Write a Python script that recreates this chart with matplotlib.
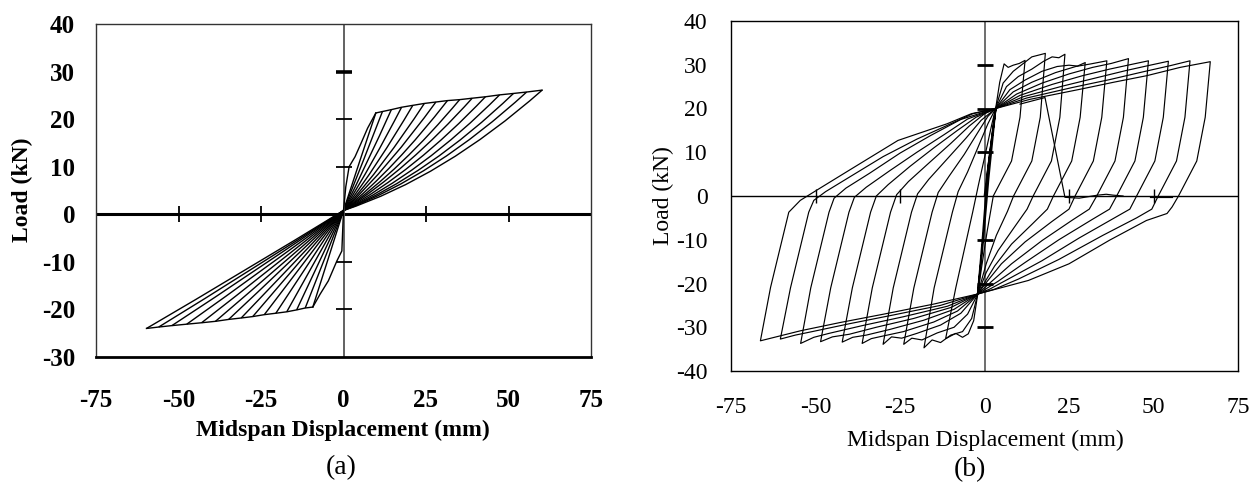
import matplotlib
matplotlib.use('Agg')
import matplotlib.pyplot as plt
from matplotlib.path import Path
from matplotlib.patches import PathPatch

plt.rcParams['font.family'] = ['Liberation Serif', 'DejaVu Serif']

# ---------------- panel (a): load-displacement, pinched fan ----------------
a_origin = (0.0, 0.8)
a_init_pos_x = [0.0, 0.7, 1.7, 3.5, 5.3, 7.3, 9.8]
a_init_pos_y = [0.8, 5.8, 10.0, 12.1, 14.9, 18.1, 21.3]
a_pos_x = [9.8, 11.8, 14.5, 17.6, 21.0, 24.5, 28.0, 31.5, 35.2, 39.0, 43.0, 47.3, 51.5, 55.5, 60.2]
a_pos_y = [21.3, 21.6, 22.0, 22.5, 22.9, 23.3, 23.6, 23.9, 24.1, 24.4, 24.7, 25.1, 25.4, 25.7, 26.1]
# control load (at half the peak displacement) of each curved unloading branch
a_pos_ctrl = [11.2, 11.0, 10.8, 10.7, 10.5, 10.3, 10.2, 9.8, 9.5, 9.4, 9.0, 8.6, 8.3, 8.1, 7.7]

a_init_neg_x = [0.0, -0.5, -2.0, -4.6, -7.1, -9.3]
a_init_neg_y = [0.8, -7.7, -9.8, -14.0, -16.8, -19.5]
a_neg_x = [-9.3, -11.6, -14.2, -17.2, -20.5, -24.0, -27.5, -31.0, -34.8, -38.8, -43.0, -47.5, -52.0, -56.0, -59.7]
a_neg_y = [-19.5, -19.7, -20.1, -20.5, -20.8, -21.1, -21.5, -21.8, -22.1, -22.5, -22.8, -23.1, -23.4, -23.7, -24.0]
a_neg_ctrl = [-9.4, -9.5, -9.6, -9.8, -10.0, -10.2, -10.4, -10.6, -10.8, -11.0, -11.2, -11.4, -11.6, -11.8, -11.9]

# ---------------- panel (b): full hysteresis loops ----------------
b_piv_pos = (3.3, 20.0)
b_piv_neg = (-2.0, -22.4)
b_init_x = [0.0, 1.8, 3.3, 1.0, -0.5, -2.0, -0.6, 1.2, 3.3]
b_init_y = [0.0, 11.0, 20.0, 6.0, -9.0, -22.4, -12.0, 4.0, 20.0]

b_pos_peak_x = [12.0, 18.0, 23.8, 29.8, 36.2, 42.6, 48.5, 54.4, 60.8, 66.8]
b_pos_peak_y = [31.0, 32.6, 32.4, 30.5, 30.9, 31.4, 30.9, 30.8, 30.9, 30.7]
b_neg_peak_x = [-11.5, -17.9, -23.9, -30.0, -36.2, -42.1, -48.5, -54.4, -60.4, -66.3]
b_neg_peak_y = [-32.6, -34.7, -33.9, -33.9, -33.7, -33.4, -33.3, -33.7, -32.7, -33.1]

# branch points between pivots and peaks, one list per cycle
b_upper = [
    [(4.5, 26.0), (5.8, 30.2), (7.0, 29.4), (8.5, 29.9), (10.3, 30.3)],
    [(5.5, 25.8), (8.5, 28.5), (11.5, 30.3), (14.0, 31.8), (16.0, 32.2)],
    [(6.5, 25.0), (10.0, 27.3), (14.0, 29.0), (17.5, 30.8), (20.0, 31.8), (22.0, 31.6)],
    [(7.5, 24.3), (12.0, 26.5), (17.0, 28.5), (21.5, 29.6), (25.0, 29.9), (27.5, 29.7)],
    [(8.5, 23.8), (14.0, 26.0), (21.0, 28.2), (27.0, 29.6), (31.5, 30.2)],
    [(9.5, 23.3), (17.0, 25.8), (25.0, 27.9), (32.0, 29.4), (37.5, 30.3)],
    [(10.5, 23.0), (20.0, 25.5), (29.0, 27.5), (37.0, 29.0), (43.0, 30.0)],
    [(11.5, 22.7), (23.0, 25.1), (33.0, 27.0), (42.0, 28.7), (49.0, 29.9)],
    [(12.5, 22.4), (26.0, 24.8), (37.0, 26.6), (47.0, 28.4), (55.0, 29.8)],
    [(13.5, 22.1), (28.3, 24.4), (38.2, 26.0), (48.0, 27.5), (57.9, 29.4)],
]
b_unload = [
    [(10.5, 18.0), (8.0, 8.0), (2.6, 0.0), (0.8, -8.0), (-0.8, -16.0)],
    [(16.5, 18.0), (14.0, 8.0), (8.6, 0.0), (6.8, -3.5), (3.5, -9.0), (0.5, -15.5)],
    [(22.3, 18.0), (19.8, 8.0), (14.4, 0.0), (12.6, -3.0), (8.5, -7.5), (4.0, -12.5), (0.5, -17.5)],
    [(28.3, 18.0), (25.8, 8.0), (20.4, 0.0), (18.6, -3.0), (14.0, -6.5), (8.0, -11.0), (3.0, -16.0), (0.0, -19.8)],
    [(34.7, 18.0), (32.2, 8.0), (26.8, 0.0), (25.0, -3.0), (20.0, -5.8), (12.0, -10.5), (5.0, -15.5), (0.5, -19.8)],
    [(41.1, 18.0), (38.6, 8.0), (33.2, 0.0), (31.0, -3.0), (26.0, -5.5), (17.0, -10.2), (8.0, -15.5), (2.0, -19.6)],
    [(47.0, 18.0), (44.5, 8.0), (39.1, 0.0), (37.0, -3.0), (32.0, -5.3), (22.0, -10.0), (12.0, -15.2), (4.0, -19.5)],
    [(52.9, 18.0), (50.4, 8.0), (45.0, 0.0), (43.0, -3.0), (38.0, -5.2), (28.0, -9.6), (17.0, -14.8), (7.0, -19.0), (1.5, -21.3)],
    [(59.3, 18.0), (56.8, 8.0), (51.4, 0.0), (49.5, -3.0), (45.0, -5.0), (35.0, -9.0), (22.0, -14.5), (10.0, -19.0), (3.0, -21.3)],
    [(65.3, 18.0), (62.8, 8.0), (57.4, 0.0), (55.5, -2.5), (54.0, -4.0), (47.9, -5.6), (37.0, -10.1), (25.0, -15.5), (13.0, -19.3)],
]
b_lower = [
    [(-3.2, -28.5), (-4.8, -31.5), (-6.5, -32.3), (-8.5, -31.4), (-10.0, -32.0)],
    [(-3.8, -28.0), (-6.5, -31.0), (-10.0, -31.8), (-13.0, -33.5), (-15.5, -32.9)],
    [(-5.0, -27.0), (-9.0, -30.0), (-14.0, -31.3), (-18.5, -32.9), (-21.5, -32.5)],
    [(-7.0, -26.8), (-13.0, -29.5), (-20.0, -31.4), (-24.5, -32.5), (-27.5, -32.2)],
    [(-8.0, -26.3), (-15.0, -28.8), (-24.0, -31.0), (-30.0, -32.0), (-33.5, -32.6)],
    [(-9.0, -25.9), (-18.0, -28.4), (-28.0, -30.5), (-35.0, -31.8), (-39.0, -32.3)],
    [(-10.0, -25.5), (-21.0, -28.0), (-32.0, -30.0), (-40.0, -31.6), (-45.0, -32.2)],
    [(-11.0, -25.2), (-24.0, -27.6), (-36.0, -29.6), (-46.0, -31.4), (-50.5, -32.3)],
    [(-13.0, -25.0), (-27.0, -27.2), (-40.0, -29.2), (-51.0, -31.0), (-56.0, -31.8)],
    [(-15.0, -24.7), (-29.8, -27.0), (-42.6, -28.9), (-54.4, -30.8)],
]
b_reload = [
    [(-8.5, -21.0), (-3.5, -3.7), (-1.8, 2.5), (0.5, 10.5), (2.2, 16.5)],
    [(-14.9, -21.0), (-9.5, -3.7), (-7.8, 1.0), (-5.0, 5.5), (-2.0, 11.0), (1.0, 16.5)],
    [(-20.9, -21.0), (-15.5, -3.7), (-13.7, 0.8), (-10.5, 4.5), (-6.0, 9.5), (-2.0, 14.5), (1.0, 18.2)],
    [(-27.0, -21.0), (-21.6, -3.7), (-19.8, 0.5), (-16.5, 3.8), (-11.0, 8.5), (-5.5, 13.2), (-1.0, 17.3)],
    [(-33.2, -21.0), (-27.8, -3.7), (-26.0, 0.3), (-22.5, 3.3), (-16.5, 7.5), (-10.0, 12.0), (-4.5, 16.0), (0.0, 18.8)],
    [(-39.1, -21.0), (-33.7, -3.7), (-32.0, 0.0), (-28.5, 2.6), (-22.0, 6.8), (-15.0, 11.0), (-8.0, 15.0), (-2.5, 18.0)],
    [(-45.5, -21.0), (-40.1, -3.7), (-38.5, -0.3), (-35.0, 2.0), (-28.0, 5.8), (-20.0, 10.0), (-12.0, 14.0), (-5.0, 17.6)],
    [(-51.4, -21.0), (-46.0, -3.7), (-44.5, -0.5), (-41.0, 1.8), (-34.0, 5.2), (-25.0, 9.8), (-16.0, 13.8), (-7.0, 17.5)],
    [(-57.4, -21.0), (-52.0, -3.7), (-50.5, -1.0), (-47.0, 1.0), (-40.0, 4.3), (-30.0, 9.0), (-20.0, 13.0), (-10.0, 16.5), (-3.5, 18.8)],
    [(-63.3, -20.9), (-57.9, -3.7), (-54.5, -1.0), (-49.7, 1.3), (-40.0, 5.9), (-32.8, 9.3), (-25.6, 12.7), (-11.1, 16.5), (-3.9, 18.8)],
]
# stray trace near zero load (slip segment)
b_slip_x = [10.5, 17.9, 23.8, 28.0, 33.5, 36.0, 38.0, 41.0]
b_slip_y = [21.0, 22.5, -0.3, -0.5, 0.2, 0.4, 0.2, 0.0]
b_flat_x = [49.0, 55.5]
b_flat_y = [-0.3, -0.3]

x_ticks = [-75, -50, -25, 0, 25, 50, 75]
a_yticks = [-30, -20, -10, 0, 10, 20, 30, 40]
b_yticks = [-40, -30, -20, -10, 0, 10, 20, 30, 40]
axis_marks_x = [-50, -25, 25, 50]
a_marks_y = [-20, -10, 10, 20]
b_marks_y = [-30, -20, -10, 10, 20, 30]

W, H = 1260, 491
fig = plt.figure(figsize=(W / 100, H / 100), dpi=100)
axa = fig.add_axes([96 / W, 1 - 357 / H, 495 / W, 333 / H])
axb = fig.add_axes([731 / W, 1 - 371 / H, 507 / W, 350 / H])


def fan_curve(ax, d, f, ctrl, lw):
    # quadratic bezier from the origin to the peak, bent by the control load
    verts = [a_origin, (d / 2, ctrl), (d, f)]
    path = Path(verts, [Path.MOVETO, Path.CURVE3, Path.CURVE3])
    ax.add_patch(PathPatch(path, facecolor='none', edgecolor='k', lw=lw))


# ---- (a)
lw_a = 1.0
axa.plot(a_init_pos_x, a_init_pos_y, color='k', lw=lw_a)
axa.plot(a_pos_x, a_pos_y, color='k', lw=lw_a)
for d, f, c in zip(a_pos_x, a_pos_y, a_pos_ctrl):
    fan_curve(axa, d, f, c, lw_a)
axa.plot(a_init_neg_x, a_init_neg_y, color='k', lw=lw_a)
axa.plot(a_neg_x, a_neg_y, color='k', lw=lw_a)
for d, f, c in zip(a_neg_x, a_neg_y, a_neg_ctrl):
    fan_curve(axa, d, f, c, lw_a)

axa.axhline(0, color='k', lw=2.2, zorder=1)
axa.axvline(0, color='#555555', lw=1.3, zorder=1)
axa.plot(axis_marks_x, [0] * len(axis_marks_x), ls='none', marker='|', ms=11, mew=1.3, color='k')
axa.plot([0] * len(a_marks_y), a_marks_y, ls='none', marker='_', ms=11, mew=1.3, color='k')
axa.plot([0], [30], ls='none', marker='_', ms=11, mew=2.6, color='k')

axa.set_xlim(-75, 75)
axa.set_ylim(-30, 40)
axa.set_xticks(x_ticks)
axa.set_xticklabels([str(v) for v in x_ticks])
axa.set_yticks(a_yticks)
axa.set_yticklabels([str(v) for v in a_yticks])
axa.tick_params(length=0, labelsize=18)
axa.tick_params(axis='x', pad=23)
axa.tick_params(axis='y', pad=15)
for lab in axa.get_xticklabels() + axa.get_yticklabels():
    lab.set_fontweight('bold')
for side in ['left', 'top', 'right']:
    axa.spines[side].set_linewidth(1.0)
    axa.spines[side].set_color('#333333')
axa.spines['bottom'].set_linewidth(2.0)

fig.text(343 / W, 1 - 430 / H, 'Midspan Displacement (mm)', ha='center', va='center',
         fontsize=17, fontweight='bold')
fig.text(22 / W, 1 - 190 / H, 'Load (kN)', ha='center', va='center', rotation=90,
         fontsize=17, fontweight='bold')
fig.text(341 / W, 1 - 468 / H, '(a)', ha='center', va='center', fontsize=20)

# ---- (b)
lw_b = 0.85
axb.plot(b_init_x, b_init_y, color='k', lw=1.3)
for i in range(len(b_pos_peak_x)):
    pts = [b_piv_pos] + b_upper[i] + [(b_pos_peak_x[i], b_pos_peak_y[i])] + b_unload[i] + \
          [b_piv_neg] + b_lower[i] + [(b_neg_peak_x[i], b_neg_peak_y[i])] + b_reload[i] + [b_piv_pos]
    axb.plot([p[0] for p in pts], [p[1] for p in pts], color='k', lw=lw_b)
axb.plot(b_slip_x, b_slip_y, color='k', lw=lw_b)
axb.plot(b_flat_x, b_flat_y, color='k', lw=lw_b)

axb.axhline(0, color='k', lw=1.0, zorder=1)
axb.axvline(0, color='#555555', lw=1.2, zorder=1)
axb.plot(axis_marks_x, [0] * len(axis_marks_x), ls='none', marker='|', ms=10, mew=1.0, color='k')
axb.plot([0] * len(b_marks_y), b_marks_y, ls='none', marker='_', ms=11, mew=2.0, color='k')

axb.set_xlim(-75, 75)
axb.set_ylim(-40, 40)
axb.set_xticks(x_ticks)
axb.set_xticklabels([str(v) for v in x_ticks])
axb.set_yticks(b_yticks)
axb.set_yticklabels([str(v) for v in b_yticks])
axb.tick_params(length=0, labelsize=17)
axb.tick_params(axis='x', pad=19)
axb.tick_params(axis='y', pad=17)
for spine in axb.spines.values():
    spine.set_linewidth(1.0)

fig.text(985 / W, 1 - 440 / H, 'Midspan Displacement (mm)', ha='center', va='center', fontsize=17)
fig.text(663 / W, 1 - 196 / H, 'Load (kN)', ha='center', va='center', rotation=90, fontsize=17)
fig.text(970 / W, 1 - 470 / H, '(b)', ha='center', va='center', fontsize=20)

fig.savefig('out.png', dpi=100)
